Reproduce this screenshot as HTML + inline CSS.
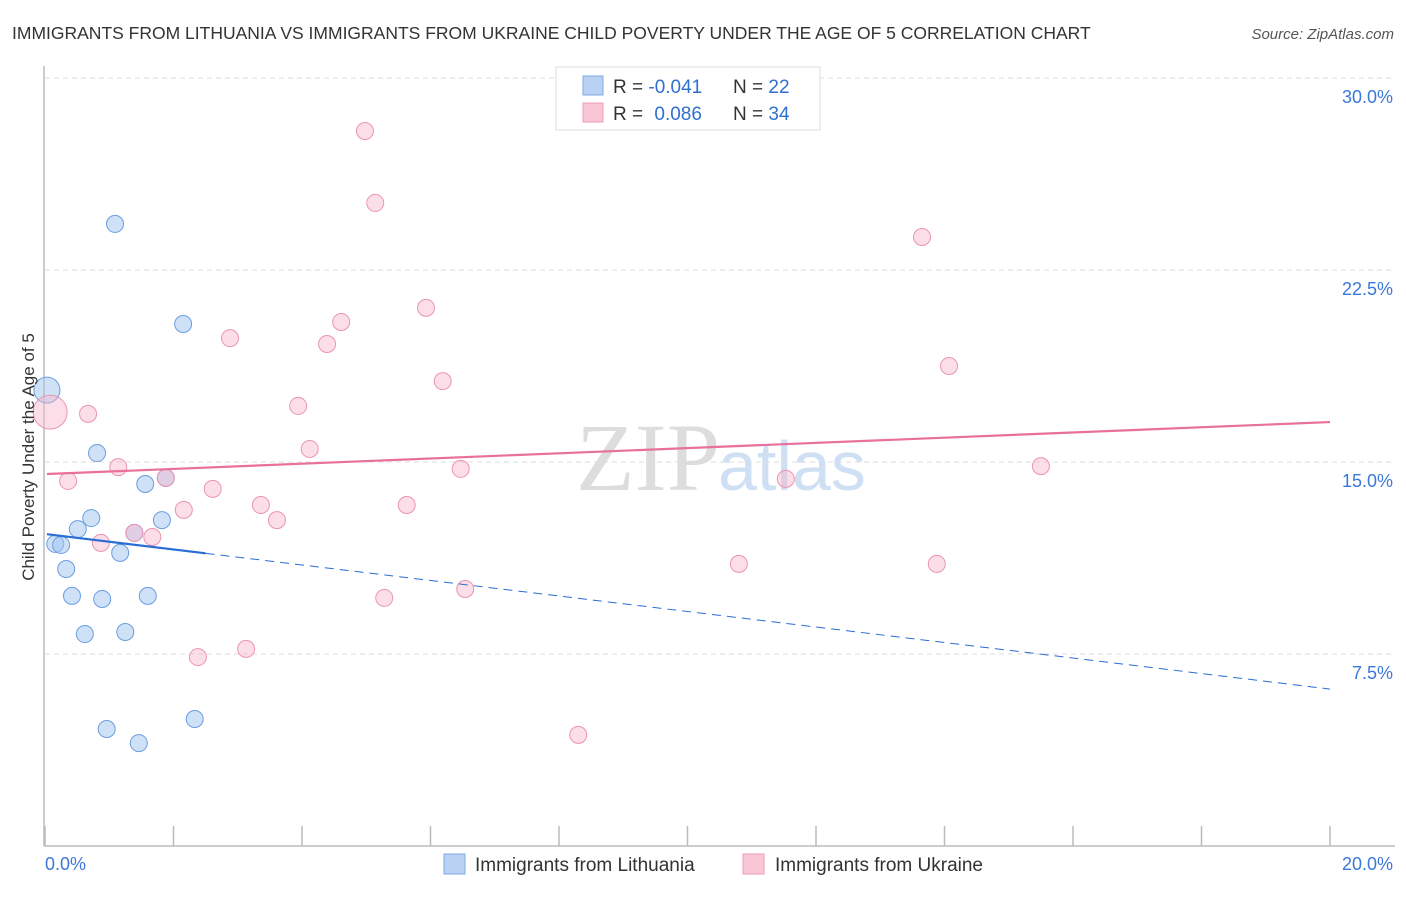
<!DOCTYPE html>
<html><head><meta charset="utf-8"><style>
body{margin:0;background:#fff;font-family:"Liberation Sans",sans-serif}
</style></head><body>
<svg width="1406" height="892" xmlns="http://www.w3.org/2000/svg" font-family="Liberation Sans, sans-serif">
<text x="12" y="39" font-size="17.5" fill="#333">IMMIGRANTS FROM LITHUANIA VS IMMIGRANTS FROM UKRAINE CHILD POVERTY UNDER THE AGE OF 5 CORRELATION CHART</text>
<text x="1394" y="39" font-size="15" fill="#555" font-style="italic" text-anchor="end">Source: ZipAtlas.com</text>
<text x="720" y="490" font-size="96" fill="#ddd" text-anchor="end" font-family="Liberation Serif, serif">ZIP</text>
<text x="718" y="490" font-size="70" fill="#cfe0f5">atlas</text>
<g id="grid"></g>
<g id="axes"></g>
<g id="marks"></g>
<text x="34" y="457" font-size="17" fill="#333" text-anchor="middle" transform="rotate(-90 34 457)">Child Poverty Under the Age of 5</text>
<g>
<rect x="556" y="67" width="264" height="63" fill="#fff" stroke="#ddd"/>
<rect x="583" y="76" width="20" height="19" fill="#b9d2f3" stroke="#7ea9e3"/>
<rect x="583" y="103" width="20" height="19" fill="#f9c6d5" stroke="#ef9cb8"/>
<text x="613" y="93" font-size="19" fill="#333">R = <tspan fill="#2f6fd0">-0.041</tspan></text>
<text x="733" y="93" font-size="19" fill="#333">N = <tspan fill="#2f6fd0">22</tspan></text>
<text x="613" y="120" font-size="19" fill="#333">R = <tspan fill="#2f6fd0" dx="6">0.086</tspan></text>
<text x="733" y="120" font-size="19" fill="#333">N = <tspan fill="#2f6fd0">34</tspan></text>
</g>
<g>
<rect x="444" y="854" width="21" height="20" fill="#b9d2f3" stroke="#7ea9e3"/>
<text x="475" y="871" font-size="19" fill="#333">Immigrants from Lithuania</text>
<rect x="743" y="854" width="21" height="20" fill="#f9c6d5" stroke="#ef9cb8"/>
<text x="775" y="871" font-size="19" fill="#333">Immigrants from Ukraine</text>
</g>
</svg>
<script>
const yTicks=[7.5,15,22.5,30];
const yTickLabels=["7.5%","15.0%","22.5%","30.0%"];
const xTickCount=10;
const xTickLabels=["0.0%","20.0%"];
const lithX=[0.03,1.09,2.15,0.81,1.56,1.88,0.72,0.51,1.82,1.39,0.16,0.25,1.17,0.33,0.42,0.89,1.60,0.62,1.25,2.33,0.96,1.46];
const lithY=[17.81,24.30,20.39,15.35,14.14,14.38,12.81,12.38,12.73,12.23,11.80,11.76,11.45,10.82,9.77,9.65,9.77,8.28,8.36,4.96,4.57,4.02];
const ukrX=[0.08,0.67,4.98,5.14,13.65,2.88,4.61,4.39,5.93,6.19,14.07,3.94,4.12,1.14,0.36,1.88,6.47,15.50,11.53,2.61,2.16,3.36,5.63,3.61,1.39,1.67,0.87,10.80,13.88,6.54,5.28,3.13,2.38,8.30];
const ukrY=[16.95,16.88,27.93,25.12,23.79,19.84,20.47,19.61,21.02,18.16,18.75,17.19,15.51,14.80,14.26,14.38,14.73,14.84,14.34,13.95,13.13,13.32,13.32,12.73,12.23,12.07,11.84,11.02,11.02,10.04,9.69,7.70,7.38,4.34];
const lithTrend=[12.19,6.13];
const ukrTrend=[14.53,16.56];
const lithSolidEnd=2.5;
const NS="http://www.w3.org/2000/svg";
const sx=v=>45+v/20*1285;
const sy=v=>846-v*25.6;
function mk(t,a,p){const e=document.createElementNS(NS,t);for(const k in a)e.setAttribute(k,a[k]);document.getElementById(p).appendChild(e);return e;}
yTicks.forEach((t,i)=>{
const g=mk('line',{x1:45,x2:1395,y1:sy(t),y2:sy(t),stroke:'#ddd','stroke-dasharray':'5 4'},'grid');


const l=mk('text',{x:1393,y:sy(t)+25,'font-size':18,fill:'#3b78d8','text-anchor':'end'},'axes');
l.textContent=yTickLabels[i];


});
const ax=mk('line',{x1:44,x2:44,y1:66,y2:846,stroke:'#bbb','stroke-width':1.5},'axes');


const bx=mk('line',{x1:44,x2:1395,y1:846,y2:846,stroke:'#bbb','stroke-width':1.5},'axes');


for(let i=0;i<=xTickCount;i++){
const x=sx(i*20/xTickCount);
const t=mk('line',{x1:x,x2:x,y1:826,y2:846,stroke:'#bbb','stroke-width':1.5},'axes');


}
const xl0=mk('text',{x:45,y:870,'font-size':18,fill:'#3b78d8'},'axes');xl0.textContent=xTickLabels[0];


const xl1=mk('text',{x:1393,y:870,'font-size':18,fill:'#3b78d8','text-anchor':'end'},'axes');xl1.textContent=xTickLabels[1];


lithX.forEach((x,i)=>{
const c=mk('circle',{cx:sx(x),cy:sy(lithY[i]),r:i===0?13:8.5,fill:'rgba(160,195,240,0.5)',stroke:'#6a9ee0','stroke-width':1},'marks');


});
ukrX.forEach((x,i)=>{
const c=mk('circle',{cx:sx(x),cy:sy(ukrY[i]),r:i===0?17:8.5,fill:'rgba(247,182,204,0.45)',stroke:'#ec94b3','stroke-width':1},'marks');


});
const lt=v=>lithTrend[0]+(lithTrend[1]-lithTrend[0])*v/20;
const l1=mk('line',{x1:sx(0.03),y1:sy(lt(0.03)),x2:sx(lithSolidEnd),y2:sy(lt(lithSolidEnd)),stroke:'#2a6dd4','stroke-width':2.2},'marks');


const l2=mk('line',{x1:sx(lithSolidEnd),y1:sy(lt(lithSolidEnd)),x2:sx(20),y2:sy(lt(20)),stroke:'#2a6dd4','stroke-width':1,'stroke-dasharray':'9 6'},'marks');


const l3=mk('line',{x1:sx(0.03),y1:sy(ukrTrend[0]),x2:sx(20),y2:sy(ukrTrend[1]),stroke:'#e8709a','stroke-width':2.2},'marks');


</script>
</body></html>
